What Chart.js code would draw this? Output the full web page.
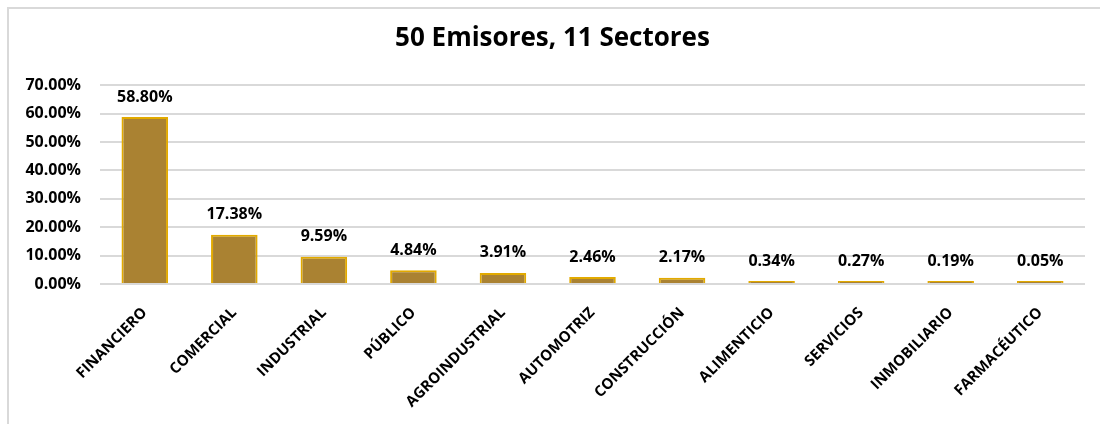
<!DOCTYPE html>
<html>
<head>
<meta charset="utf-8">
<script src="https://cdn.jsdelivr.net/npm/chart.js@4"></script>
<style>
  body { margin: 0; background: #fff; }
  .frame { position: absolute; left: 7px; top: 7px; width: 1100px; height: 430px; border-left: 2px solid #d9d9d9; border-top: 2px solid #d9d9d9; }
  #myChart { position: absolute; left: 0; top: 0; }
</style>
</head>
<body>
<div class="frame"></div>
<canvas id="myChart" width="1100" height="424"></canvas>
<script>
// datos del grafico
let sectores = ['FINANCIERO', 'COMERCIAL', 'INDUSTRIAL', 'PÚBLICO', 'AGROINDUSTRIAL', 'AUTOMOTRIZ',
    'CONSTRUCCIÓN', 'ALIMENTICIO', 'SERVICIOS', 'INMOBILIARIO', 'FARMACÉUTICO'];
let porcentajes = [58.80, 17.38, 9.59, 4.84, 3.91, 2.46, 2.17, 0.34, 0.27, 0.19, 0.05];
let ticksY = [0, 10, 20, 30, 40, 50, 60, 70];

let ctx = document.getElementById('myChart').getContext('2d');
let fuente = "'Open Sans', sans-serif";

// etiquetas encima de cada barra
let etiquetas = {
    id: 'etiquetas',
    afterDatasetsDraw(chart) {
        let c = chart.ctx;
        let meta = chart.getDatasetMeta(0);
        c.save();
        c.font = 'bold 16px ' + fuente;
        c.fillStyle = '#000';
        c.textAlign = 'center';
        c.textBaseline = 'middle';
        meta.data.forEach((bar, i) => {
            c.fillText(porcentajes[i].toFixed(2) + '%', bar.x, bar.y - 20);
        });
        c.restore();
    }
};

let myChart = new Chart(ctx, {
    type: 'bar',
    data: {
        labels: sectores,
        datasets: [{
            data: porcentajes,
            backgroundColor: '#aa8232',
            borderColor: '#e2aa00',
            borderWidth: 2,
            minBarLength: 3,
            categoryPercentage: 1,
            barPercentage: 0.52
        }]
    },
    options: {
        responsive: false,
        animation: false,
        devicePixelRatio: 1,
        layout: { padding: { left: 20, right: 15, top: 0, bottom: 0 } },
        plugins: {
            legend: { display: false },
            tooltip: { enabled: false },
            title: {
                display: true,
                text: '50 Emisores, 11 Sectores',
                color: '#000',
                font: { family: fuente, size: 26, weight: 'bold' },
                padding: { top: 23, bottom: 31 }
            }
        },
        scales: {
            x: {
                grid: { display: false },
                border: { display: false },
                ticks: {
                    color: '#000',
                    font: { family: fuente, size: 15, weight: 'bold' },
                    maxRotation: 45,
                    minRotation: 45,
                    autoSkip: false,
                    padding: 12
                },
                afterFit: (scale) => { scale.height = 140; }
            },
            y: {
                min: 0,
                max: 70,
                afterBuildTicks: (scale) => { scale.ticks = ticksY.map(v => ({ value: v })); },
                grid: { color: '#d9d9d9', lineWidth: 2, drawTicks: false },
                border: { display: false },
                ticks: {
                    color: '#000',
                    font: { family: fuente, size: 16, weight: 'bold' },
                    padding: 19,
                    callback: (v) => v.toFixed(2) + '%'
                },
                afterFit: (scale) => { scale.width = 80; }
            }
        }
    },
    plugins: [etiquetas]
});
</script>
</body>
</html>
